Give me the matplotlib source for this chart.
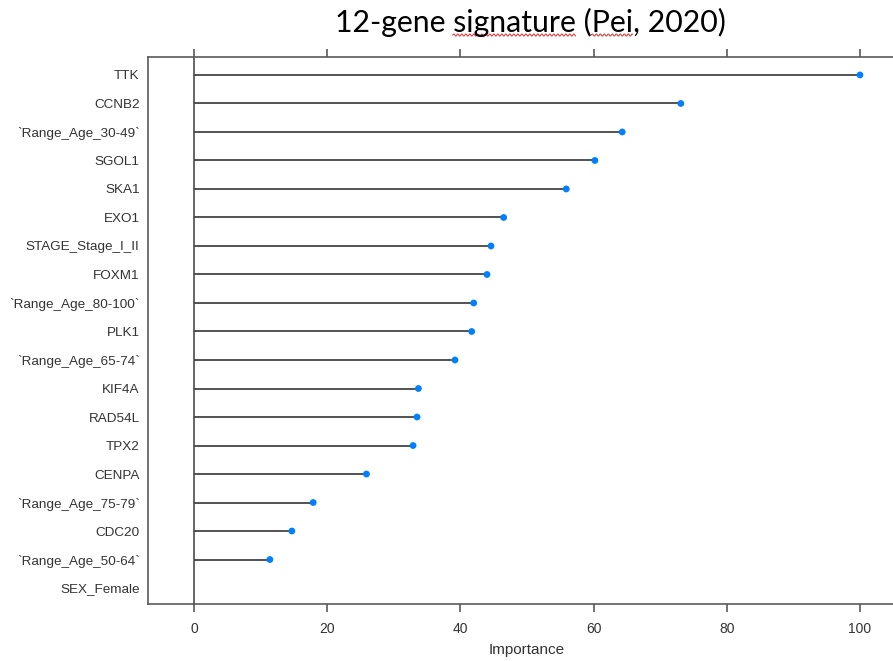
import numpy as np
import matplotlib
matplotlib.use("Agg")
import matplotlib.pyplot as plt
from matplotlib import font_manager

# --- Variable importance (top to bottom) ---
FEATURES = [
    "TTK", "CCNB2", "`Range_Age_30-49`", "SGOL1", "SKA1", "EXO1",
    "STAGE_Stage_I_II", "FOXM1", "`Range_Age_80-100`", "PLK1",
    "`Range_Age_65-74`", "KIF4A", "RAD54L", "TPX2", "CENPA",
    "`Range_Age_75-79`", "CDC20", "`Range_Age_50-64`", "SEX_Female",
]
IMPORTANCE = [
    100.0, 73.1, 64.3, 60.2, 55.9, 46.5,
    44.6, 44.0, 42.0, 41.7,
    39.2, 33.7, 33.5, 32.9, 25.9,
    17.9, 14.7, 11.4, 0.0,
]
X_TICKS = [0, 20, 40, 60, 80, 100]
TITLE = "12-gene signature (Pei, 2020)"
FLAGGED_WORDS = ["signature", "Pei"]

W, H, DPI = 893, 661, 100
FRAME = "#5a5a5a"
DOT = "#0080ff"
TEXT = "#333333"


def has_font(name):
    try:
        font_manager.findfont(name, fallback_to_default=False)
        return True
    except Exception:
        return False


narrow = "Liberation Sans Narrow" if has_font("Liberation Sans Narrow") else "Liberation Sans"

fig = plt.figure(figsize=(W / DPI, H / DPI), dpi=DPI)

# plot frame in pixels; right side runs past the figure edge
x_lo, x_hi = -6.9, 106.9
px_per_unit = (860 - 194) / 100.0
left_px, top_px, bot_px = 148, 57, 604
width_px = (x_hi - x_lo) * px_per_unit
ax = fig.add_axes([left_px / W, (H - bot_px) / H, width_px / W, (bot_px - top_px) / H])

n = len(FEATURES)
y = np.arange(n)[::-1]
vals = np.array(IMPORTANCE)

ax.hlines(y, 0, vals, color="#444444", lw=1.3, zorder=2)
shown = vals > 0
ax.scatter(vals[shown], y[shown], s=24, marker="o", color=DOT, edgecolors="none", zorder=3)
ax.axvline(0, color=FRAME, lw=1.3, zorder=1)

ax.set_xlim(x_lo, x_hi)
ax.set_ylim(-0.56, n - 1 + 0.63)

for s in ax.spines.values():
    s.set_color(FRAME)
    s.set_linewidth(1.2)

ax.set_yticks(y)
ax.set_yticklabels(FEATURES, fontfamily="Liberation Sans", fontsize=9.7, color=TEXT)
ax.tick_params(axis="y", length=0, pad=6)

ax.set_xticks(X_TICKS)
ax.set_xticklabels([str(t) for t in X_TICKS], fontfamily=narrow, fontsize=10, color=TEXT)
ax.tick_params(axis="x", direction="out", length=6, width=1.2, color=FRAME,
               top=True, bottom=True, labeltop=False, pad=7)
ax.set_xlabel("Importance", fontfamily=narrow, fontsize=11, color=TEXT, labelpad=5)

# title with spell-check squiggles under flagged words
title_kw = dict(fontfamily="Lato", fontsize=21.8, color="black")
t = fig.text(530 / W, 1 - 22 / H, TITLE, ha="center", va="center", **title_kw)
fig.canvas.draw()
renderer = fig.canvas.get_renderer()
bb = t.get_window_extent(renderer)


def text_width(s):
    tmp = fig.text(0, 0, s, **title_kw)
    w = tmp.get_window_extent(renderer).width
    tmp.remove()
    return w


for word in FLAGGED_WORDS:
    i = TITLE.index(word)
    x0 = bb.x0 + text_width(TITLE[:i])
    x1 = bb.x0 + text_width(TITLE[:i + len(word)])
    xs = np.linspace(x0, x1, int((x1 - x0) * 2))
    ys = bb.y0 + 1.5 + 1.1 * np.sin(2 * np.pi * (xs - x0) / 4.0)
    fig.add_artist(plt.Line2D(xs / W, ys / H, transform=fig.transFigure,
                              color="#e03030", lw=0.7))

fig.savefig("out.png", dpi=DPI)
